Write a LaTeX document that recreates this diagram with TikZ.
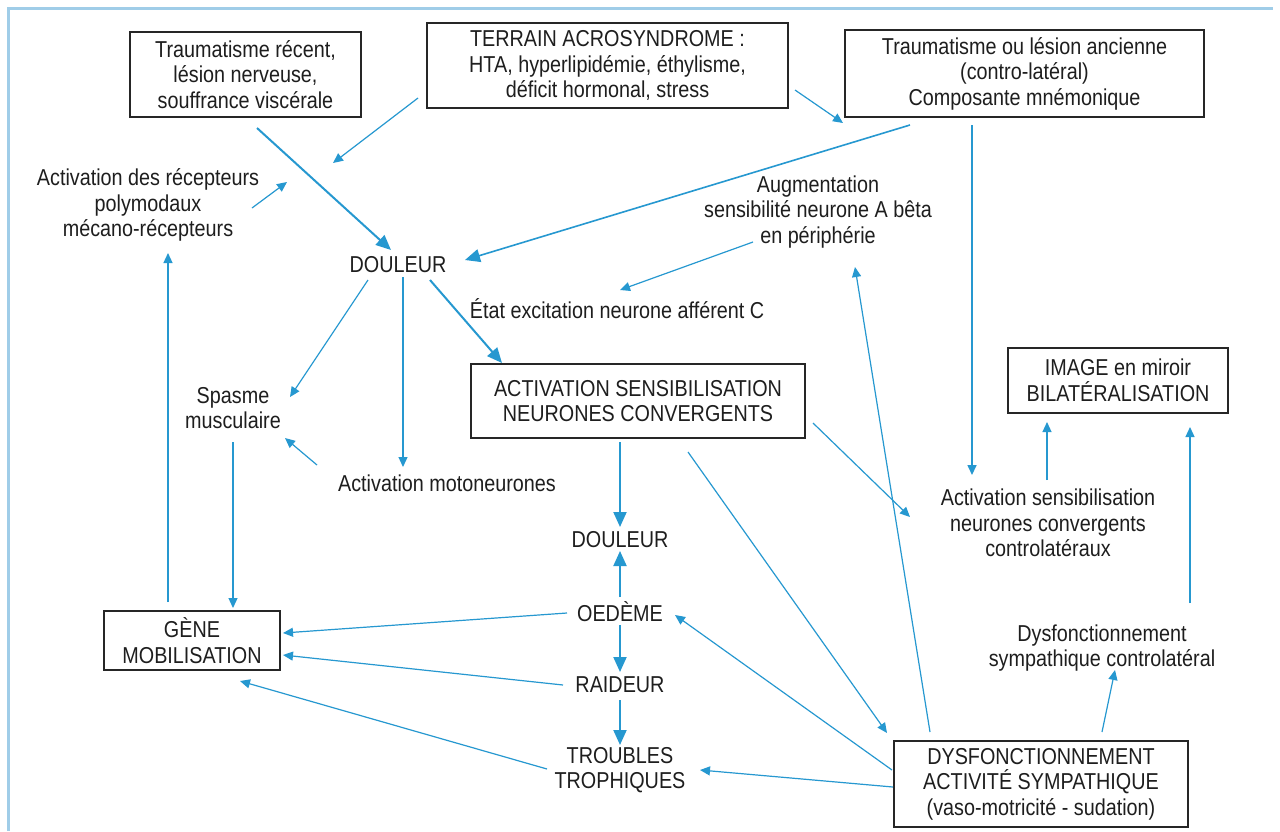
\documentclass[tikz,border=0pt]{standalone}
\usepackage{fontspec}
\setmainfont{Liberation Sans}[FakeStretch=0.86]
\usetikzlibrary{arrows.meta}
\definecolor{arrblue}{RGB}{38,152,208}
\definecolor{framebl}{RGB}{160,205,232}
\definecolor{txt}{RGB}{30,30,30}
\newcommand\fsz{\fontsize{23}{25.5}\selectfont}
\tikzset{
  box/.style={draw=black!85, line width=1.3pt, align=center, inner sep=0pt, text=txt, font=\fsz},
  lbl/.style={align=center, inner sep=1pt, text=txt, font=\fsz},
  arr/.style={draw=arrblue, line width=1.2pt, -{Triangle[length=10pt,width=9pt]}},
  bigarr/.style={draw=arrblue, line width=2pt, -{Triangle[length=15pt,width=13pt]}},
}
\newcommand\at[3]{([shift={(#2,#3)}]#1.center)}
\begin{document}
\begin{tikzpicture}[x=1pt,y=-1pt]
\useasboundingbox (0,0) rectangle (1280,831);
\fill[white] (0,0) rectangle (1280,831);
\draw[framebl, line width=3pt] (8,831) -- (8,8) -- (1273,8);

% boxes
\node[box, minimum width=231pt, minimum height=85pt] (trec) at (245.5,74.5) {Traumatisme récent,\\lésion nerveuse,\\souffrance viscérale};
\node[box, minimum width=361pt, minimum height=85pt] (terr) at (607.5,65.5) {TERRAIN ACROSYNDROME :\\HTA, hyperlipidémie, éthylisme,\\déficit hormonal, stress};
\node[box, minimum width=359pt, minimum height=87pt] (tanc) at (1024.5,73.5) {Traumatisme ou lésion ancienne\\(contro-latéral)\\Composante mnémonique};
\node[box, minimum width=334pt, minimum height=74pt] (actconv) at (638,401) {ACTIVATION SENSIBILISATION\\NEURONES CONVERGENTS};
\node[box, minimum width=220pt, minimum height=65pt] (image) at (1118,380.5) {IMAGE en miroir\\BILATÉRALISATION};
\node[box, minimum width=176pt, minimum height=59pt] (gene) at (192,640.5) {GÈNE\\MOBILISATION};
\node[box, minimum width=294pt, minimum height=86pt] (dysf) at (1041,784) {DYSFONCTIONNEMENT\\ACTIVITÉ SYMPATHIQUE\\(vaso-motricité - sudation)};

% labels
\node[lbl] (recep) at (148,205) {Activation des récepteurs\\polymodaux\\mécano-récepteurs};
\node[lbl] (dou1) at (398,265) {DOULEUR};
\node[lbl] (augm) at (818,212) {Augmentation\\sensibilité neurone A bêta\\en périphérie};
\node[lbl] (etat) at (617,309) {État excitation neurone afférent C};
\node[lbl] (spasme) at (233,408) {Spasme\\musculaire};
\node[lbl] (motor) at (447,483) {Activation motoneurones};
\node[lbl] (dou2) at (620,540) {DOULEUR};
\node[lbl] (oedeme) at (620,612) {OEDÈME};
\node[lbl] (raideur) at (620,685) {RAIDEUR};
\node[lbl] (troubles) at (620,770) {TROUBLES\\TROPHIQUES};
\node[lbl] (actcontro) at (1048,523) {Activation sensibilisation\\neurones convergents\\controlatéraux};
\node[lbl] (dysfcontro) at (1102,648) {Dysfonctionnement\\sympathique controlatéral};

\coordinate (p2) at (333,163);
\coordinate (p3) at (287,182);
\coordinate (p4) at (843,123);

% connectors
\draw[bigarr] \at{trec}{11.5}{53.5} -- \at{dou1}{-7}{-15};
\draw[arr] \at{terr}{-189.5}{32.5} -- (p2);
\draw[arr] \at{recep}{104}{3} -- (p3);
\draw[arr] \at{terr}{187.5}{24.5} -- (p4);
\draw[bigarr, line width=1.6pt] \at{tanc}{-114.5}{51.5} -- \at{dou1}{67}{-5};
\draw[arr, line width=1.6pt] \at{tanc}{-52.5}{51.5} -- \at{actcontro}{-76}{-48};
\draw[arr] \at{augm}{-65}{30} -- \at{etat}{3}{-19};
\draw[bigarr] \at{dou1}{32}{15} -- \at{actconv}{-136}{-38};
\draw[arr] \at{dou1}{-30}{15} -- \at{spasme}{57}{-11};
\draw[arr] \at{dou1}{5}{12} -- \at{motor}{-44}{-16};
\draw[arr] \at{motor}{-130}{-18} -- \at{spasme}{52}{30};
\draw[arr] \at{spasme}{0}{34} -- \at{gene}{41}{-32.5};
\draw[arr] \at{gene}{-24}{-38.5} -- \at{recep}{20}{48};
\draw[bigarr] \at{actconv}{-18}{41} -- \at{dou2}{0}{-13};
\draw[bigarr] \at{oedeme}{0}{-15} -- \at{dou2}{0}{11};
\draw[bigarr] \at{oedeme}{0}{13} -- \at{raideur}{0}{-13};
\draw[bigarr] \at{raideur}{0}{15} -- \at{troubles}{0}{-25};
\draw[arr] \at{oedeme}{-53}{1} -- \at{gene}{91}{-7.5};
\draw[arr] \at{raideur}{-57}{0} -- \at{gene}{91}{14.5};
\draw[arr] \at{troubles}{-73}{-1} -- \at{gene}{48}{40.5};
\draw[arr] \at{dysf}{-148}{3} -- \at{troubles}{80}{0};
\draw[arr] \at{dysf}{-149}{-14} -- \at{oedeme}{55}{3};
\draw[arr] \at{actconv}{50}{51} -- \at{dysf}{-154}{-51};
\draw[arr] \at{dysf}{-111}{-52} -- \at{augm}{37}{55};
\draw[arr] \at{actconv}{175}{22} -- \at{actcontro}{-138}{-6};
\draw[arr] \at{actcontro}{-1}{-43} -- \at{image}{-71}{41.5};
\draw[arr] \at{dysfcontro}{88}{-45} -- \at{image}{72}{46.5};
\draw[arr] \at{dysf}{61}{-52} -- \at{dysfcontro}{13}{22};
\end{tikzpicture}
\end{document}
